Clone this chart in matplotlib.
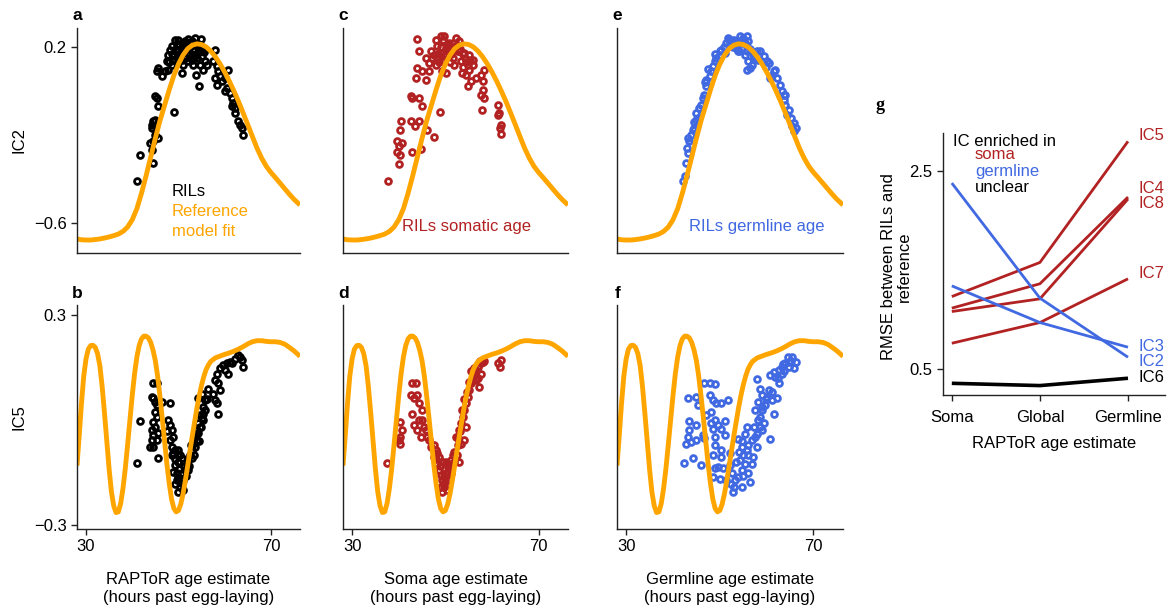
import numpy as np
import matplotlib
matplotlib.use("Agg")
import matplotlib.pyplot as plt

plt.rcParams['font.family'] = ['Liberation Sans', 'DejaVu Sans']
plt.rcParams['font.size'] = 11

ORANGE = '#FFA500'
RED = '#B22222'
BLUE = '#4169E1'
SPINE = '#222222'

# ---------------- reference model fits (hours past egg-laying) ----------------
ref_ic2_hours = [28.0, 29, 30, 31, 32, 33, 34, 35, 36, 37, 38, 39, 40, 41, 42, 43, 44, 45,
                 46, 47, 48, 49, 50, 51, 52, 53, 54, 55, 56, 57, 58, 59, 60, 61, 62, 63,
                 64, 65, 66, 67, 68, 69, 70, 71, 72, 73, 74, 75, 76, 76.3]
ref_ic2 = [-0.672, -0.676, -0.677, -0.677, -0.675, -0.672, -0.668, -0.663, -0.657, -0.650,
           -0.638, -0.618, -0.585, -0.535, -0.465, -0.385, -0.300, -0.215, -0.135, -0.065,
           0.005, 0.070, 0.122, 0.163, 0.192, 0.208, 0.214, 0.211, 0.200, 0.181, 0.155,
           0.123, 0.086, 0.045, 0.000, -0.048, -0.100, -0.153, -0.207, -0.260, -0.305,
           -0.342, -0.370, -0.394, -0.419, -0.444, -0.469, -0.492, -0.512, -0.518]

ref_ic5_hours = [28.05, 28.5, 29, 29.5, 30, 30.5, 31, 31.5, 32, 32.5, 33, 33.5, 34, 34.5,
                 35, 35.5, 36, 36.5, 37, 37.5, 38, 38.5, 39, 39.5, 40, 40.5, 41, 41.5, 42,
                 42.5, 43, 43.5, 44, 44.5, 45, 45.5, 46, 46.5, 47, 47.5, 48, 48.5, 49, 49.5,
                 50, 50.5, 51, 51.5, 52, 52.5, 53, 53.5, 54, 54.5, 55, 55.5, 56, 56.5, 57,
                 58, 59, 60, 61, 62, 63, 64, 65, 66, 67, 68, 69, 70, 71, 72, 73, 74, 75, 76,
                 76.3]
ref_ic5 = [-0.13, -0.05, 0.045, 0.125, 0.175, 0.203, 0.213, 0.214, 0.208, 0.19, 0.155,
           0.095, 0.02, -0.06, -0.14, -0.205, -0.245, -0.264, -0.262, -0.238, -0.195,
           -0.138, -0.07, 0.0, 0.07, 0.132, 0.18, 0.213, 0.232, 0.24, 0.24, 0.235, 0.222,
           0.2, 0.17, 0.125, 0.068, 0.005, -0.06, -0.125, -0.18, -0.225, -0.252, -0.262,
           -0.258, -0.24, -0.21, -0.172, -0.13, -0.087, -0.045, -0.005, 0.035, 0.07, 0.1,
           0.125, 0.145, 0.158, 0.168, 0.178, 0.183, 0.188, 0.192, 0.197, 0.203, 0.21,
           0.218, 0.224, 0.227, 0.227, 0.225, 0.224, 0.224, 0.222, 0.217, 0.208, 0.198,
           0.186, 0.182]

# ---------------- RIL samples: IC2 ----------------
ril_age = [40.95, 41.67, 44.56, 44.2, 44.56, 43.84, 44.92, 45.64, 44.2, 44.56, 44.92, 44.2,
           45.64, 44.92, 45.28, 49.1, 54.43, 53.78, 50.68, 45.64, 45.28, 46.36, 47.08, 47.44,
           47.8, 48.16, 48.52, 49.24, 49.6, 49.96, 50.68, 51.4, 52.48, 53.57, 54.86, 51.76,
           52.84, 53.93, 55.01, 55.73, 55.37, 56.09, 54.65, 53.2, 52.12, 50.68, 49.6, 48.52,
           47.8, 48.88, 50.32, 51.04, 57.89, 57.53, 58.25, 58.61, 58.97, 60.05, 60.77, 59.33,
           60.41, 61.13, 61.49, 61.85, 62.21, 61.49, 62.21, 62.93, 63.29, 63.66, 64.02, 60.05,
           57.89, 58.25, 49.5, 50.2, 51.0, 51.8, 52.5, 53.2, 53.9, 54.5, 55.2, 50.5, 51.5,
           52.2, 53.0, 54.0, 55.5, 48.5, 49.0, 47.9, 49.8, 50.7, 51.3, 52.0, 52.9, 53.5,
           54.2, 54.8, 55.6, 50.0, 52.7, 53.5, 51.2]
ril_ic2 = [-0.411, -0.290, -0.328, -0.267, -0.229, -0.237, -0.199, -0.214, -0.169, -0.138,
           -0.131, -0.153, -0.070, -0.025, -0.032, -0.096, 0.021, 0.074, 0.081, 0.104, 0.089,
           0.066, 0.089, 0.134, 0.165, 0.188, 0.203, 0.233, 0.211, 0.180, 0.195, 0.226, 0.218,
           0.241, 0.238, 0.172, 0.165, 0.150, 0.157, 0.134, 0.097, 0.120, 0.120, 0.120, 0.134,
           0.142, 0.127, 0.120, 0.097, 0.157, 0.165, 0.120, 0.188, 0.134, 0.112, 0.089, 0.066,
           0.059, 0.097, 0.044, 0.014, -0.009, -0.032, -0.055, -0.077, -0.070, -0.100, -0.138,
           -0.153, -0.168, -0.199, -0.001, 0.059, 0.029, 0.190, 0.210, 0.200, 0.190, 0.200,
           0.190, 0.210, 0.190, 0.200, 0.170, 0.150, 0.170, 0.140, 0.170, 0.175, 0.170, 0.140,
           0.130, 0.230, 0.220, 0.210, 0.235, 0.225, 0.210, 0.200, 0.180, 0.190, 0.160, 0.150,
           0.160, 0.180]

soma_age = [37.64, 40.02, 40.38, 39.65, 40.02, 40.74, 39.65, 42.9, 44.7, 47.58, 46.14, 40.38,
            40.59, 42.54, 43.47, 44.34, 45.06, 42.54, 42.9, 44.34, 48.88, 43.62, 43.98, 45.06,
            45.78, 46.5, 44.34, 43.98, 46.86, 47.94, 49.02, 49.74, 50.83, 52.27, 52.99, 48.3,
            47.58, 49.02, 50.11, 45.78, 46.5, 47.94, 49.38, 50.11, 53.56, 54.07, 55.15, 55.87,
            55.87, 55.15, 54.43, 55.51, 54.79, 56.59, 57.67, 58.39, 58.03, 58.03, 57.67, 58.39,
            57.89, 61.28, 61.49, 62.0, 61.64, 62.0, 61.28, 51.55, 52.63, 53.35, 51.91, 49.38,
            50.5, 51.2, 52.0, 53.2, 54.3, 54.9, 53.8, 49.7, 48.6, 51.0, 49.5, 50.3, 50.9,
            51.6, 52.4, 53.0, 53.7, 54.5, 55.2, 50.2, 49.0, 48.4, 47.2]
soma_ic2 = [-0.411, -0.332, -0.290, -0.275, -0.252, -0.237, -0.229, -0.279, -0.262, -0.211,
            -0.176, -0.176, -0.135, -0.135, -0.161, -0.135, -0.070, -0.025, -0.032, -0.032,
            -0.096, 0.059, 0.104, 0.089, 0.051, 0.089, 0.183, 0.238, 0.180, 0.233, 0.248, 0.248,
            0.218, 0.241, 0.225, 0.203, 0.165, 0.172, 0.195, 0.150, 0.127, 0.120, 0.134, 0.081,
            0.081, 0.172, 0.165, 0.142, 0.120, 0.097, 0.074, 0.044, 0.021, 0.059, 0.074, 0.097,
            0.044, 0.006, -0.017, -0.032, -0.085, -0.062, -0.100, -0.153, -0.168, -0.196,
            -0.108, 0.150, 0.180, 0.134, 0.120, 0.089, 0.190, 0.170, 0.200, 0.190, 0.150, 0.120,
            0.110, 0.160, 0.130, 0.130, 0.230, 0.210, 0.200, 0.220, 0.210, 0.180, 0.170, 0.130,
            0.140, 0.170, 0.200, 0.170, 0.150]

germ_age = [42.04, 42.62, 42.76, 43.12, 42.98, 43.48, 43.12, 43.84, 44.2, 44.56, 44.92, 45.28,
            45.64, 46.0, 46.36, 46.72, 47.08, 47.08, 47.8, 48.17, 48.53, 48.89, 49.25, 49.97,
            50.33, 51.05, 51.77, 52.49, 53.21, 54.29, 55.01, 55.73, 56.09, 54.65, 53.93, 55.37,
            56.09, 56.45, 55.73, 56.81, 57.53, 57.89, 58.62, 59.34, 60.06, 60.42, 60.78, 61.5,
            61.86, 62.22, 62.94, 63.3, 64.02, 63.66, 64.02, 64.74, 64.38, 65.1, 65.82, 66.18,
            65.82, 52.0, 53.5, 54.0, 55.5, 56.5, 57.0, 52.8, 50.8, 49.0, 47.5, 50.0, 51.4,
            52.2, 53.0, 54.5, 55.3, 53.7, 54.2, 55.9, 57.2, 58.2, 45.0, 44.4, 46.8, 59.8,
            61.0, 63.6, 65.4]
germ_ic2 = [-0.411, -0.388, -0.328, -0.282, -0.259, -0.229, -0.214, -0.199, -0.176, -0.169,
            -0.131, -0.123, -0.078, -0.062, -0.032, -0.017, 0.021, 0.051, 0.066, 0.089, 0.112,
            0.134, 0.150, 0.165, 0.188, 0.172, 0.241, 0.233, 0.218, 0.248, 0.241, 0.248, 0.225,
            0.195, 0.180, 0.165, 0.134, 0.104, 0.097, 0.120, 0.150, 0.180, 0.180, 0.157, 0.134,
            0.127, 0.059, 0.089, 0.097, 0.059, 0.029, -0.001, -0.017, -0.040, -0.062, -0.085,
            -0.108, -0.123, -0.146, -0.169, -0.184, 0.230, 0.200, 0.215, 0.210, 0.190, 0.170,
            0.200, 0.200, 0.170, 0.100, 0.180, 0.220, 0.210, 0.230, 0.225, 0.220, 0.190, 0.180,
            0.180, 0.160, 0.140, -0.100, -0.140, 0.040, 0.110, 0.070, -0.020, -0.160]

# ---------------- RIL samples: IC5 ----------------
ril_age5 = [40.95, 41.67, 45.64, 44.56, 45.28, 44.2, 44.56, 44.92, 45.28, 46.36, 48.16, 44.92,
            45.28, 44.56, 44.92, 44.2, 44.56, 44.2, 43.84, 44.56, 45.28, 45.64, 47.8, 48.16,
            48.52, 48.88, 48.16, 48.52, 49.24, 48.88, 49.96, 50.32, 50.68, 49.96, 49.24, 48.88,
            49.6, 49.96, 49.24, 49.96, 50.32, 51.04, 50.68, 51.4, 51.76, 52.12, 52.48, 52.84,
            53.2, 53.57, 53.93, 54.29, 54.65, 54.29, 55.37, 55.73, 55.01, 56.45, 57.53, 57.89,
            58.25, 58.47, 58.97, 58.61, 57.89, 58.25, 58.97, 60.05, 59.69, 60.41, 60.77, 61.13,
            61.49, 62.21, 62.93, 63.66, 64.02, 63.29, 52.12, 52.84, 53.57, 53.93, 54.29, 54.65,
            55.01, 55.37, 49.6, 50.2, 50.6, 51.1, 50.9, 51.6, 52.3, 52.7, 53.3, 53.8, 54.4,
            54.9, 55.4, 55.8, 56.2, 49.3, 50.0, 48.6, 47.5]
ril_ic5 = [-0.122, -0.003, -0.109, 0.107, 0.105, 0.067, 0.062, 0.053, 0.043, 0.053, 0.048,
           0.024, 0.010, -0.005, -0.019, -0.028, -0.043, -0.057, -0.076, -0.076, -0.057, -0.038,
           0.000, -0.014, -0.028, -0.047, -0.057, -0.076, -0.086, -0.095, -0.086, -0.100,
           -0.109, -0.119, -0.128, -0.147, -0.152, -0.162, -0.181, -0.205, -0.190, -0.171,
           -0.152, -0.143, -0.128, -0.114, -0.100, -0.086, -0.067, -0.047, -0.028, -0.009,
           0.014, 0.062, 0.038, 0.057, 0.076, 0.090, 0.076, 0.057, 0.048, 0.017, 0.086, 0.105,
           0.114, 0.133, 0.148, 0.143, 0.157, 0.162, 0.133, 0.167, 0.162, 0.176, 0.186, 0.171,
           0.152, 0.181, -0.143, -0.109, -0.076, -0.057, -0.038, -0.019, 0.005, 0.019, -0.170,
           -0.140, -0.180, -0.130, -0.200, -0.160, -0.130, -0.070, -0.100, -0.040, -0.060,
           -0.020, 0.000, 0.030, 0.060, -0.110, -0.100, -0.100, -0.030]

soma_age5 = [37.49, 40.37, 40.73, 40.37, 40.01, 40.37, 42.9, 43.62, 42.54, 43.26, 43.98,
             44.34, 42.9, 43.26, 44.34, 43.98, 44.7, 45.06, 45.42, 45.06, 45.78, 46.14, 46.5,
             46.86, 47.58, 47.94, 48.3, 48.66, 47.58, 48.3, 48.66, 49.02, 49.38, 49.38, 49.02,
             49.74, 50.1, 50.46, 50.82, 51.19, 51.55, 51.91, 52.63, 52.99, 52.27, 52.99, 53.35,
             53.71, 54.07, 54.43, 54.79, 55.15, 55.51, 55.87, 56.23, 56.59, 56.95, 57.31, 57.67,
             58.03, 57.67, 56.59, 61.28, 61.64, 62.0, 54.43, 54.07, 53.35, 49.5, 50.0, 50.5,
             49.8, 51.0, 50.3, 49.8, 50.2, 50.6, 51.2, 51.8, 52.4, 52.8, 53.2, 53.6, 54.0,
             54.6, 55.0, 55.6, 56.2, 56.9, 57.5, 58.2, 48.8, 48.0]
soma_ic5 = [-0.122, -0.005, -0.028, -0.047, -0.057, -0.067, 0.105, 0.105, 0.071, 0.062, 0.071,
            0.048, 0.019, -0.014, 0.000, -0.028, -0.047, 0.000, -0.019, 0.029, -0.028, -0.047,
            -0.057, -0.076, -0.071, -0.086, -0.095, -0.105, -0.105, -0.124, -0.143, -0.157,
            -0.171, -0.205, -0.190, -0.181, -0.152, -0.133, -0.124, -0.114, -0.100, -0.090,
            -0.071, -0.119, -0.047, -0.028, -0.009, 0.010, 0.029, 0.048, 0.067, 0.086, 0.105,
            0.124, 0.133, 0.143, 0.152, 0.095, 0.162, 0.167, 0.133, 0.114, 0.162, 0.152, 0.171,
            -0.019, -0.057, -0.067, -0.120, -0.170, -0.150, -0.190, -0.140, -0.200, -0.160,
            -0.120, -0.170, -0.150, -0.120, -0.100, -0.050, -0.030, 0.030, 0.060, 0.080, 0.110,
            0.140, 0.150, 0.120, 0.170, 0.170, -0.130, -0.110]

germ_age5 = [42.39, 44.19, 46.0, 43.11, 44.92, 45.28, 46.72, 47.8, 48.88, 47.8, 48.52, 49.24,
             50.32, 51.76, 47.08, 48.16, 43.47, 44.92, 43.47, 43.11, 43.83, 42.75, 44.92, 46.36,
             46.72, 48.16, 48.88, 49.6, 51.04, 50.32, 48.52, 48.88, 51.04, 48.88, 48.52, 50.32,
             50.32, 52.12, 53.92, 48.88, 49.6, 50.68, 52.12, 48.52, 49.96, 51.4, 52.48, 52.84,
             54.65, 56.45, 53.92, 54.65, 55.37, 55.01, 55.73, 56.09, 56.81, 57.53, 57.89, 57.17,
             56.81, 56.09, 54.28, 54.65, 57.53, 57.89, 58.61, 58.97, 58.25, 58.97, 58.61, 59.33,
             58.97, 60.77, 61.49, 61.13, 60.05, 61.13, 62.21, 62.57, 60.77, 61.49, 62.57, 63.29,
             64.01, 64.74, 65.46, 66.18, 65.82, 64.74, 63.29, 61.85, 60.41, 59.69, 58.25, 58.61,
             52.5, 53.2, 53.5, 54.0, 54.8, 55.3, 55.7, 53.0, 55.0, 56.0, 57.2, 58.0, 59.0,
             59.8, 62.5, 63.8, 64.5, 65.2, 63.5]
germ_ic5 = [-0.122, -0.109, -0.127, 0.062, 0.067, 0.043, 0.105, 0.107, 0.102, 0.071, 0.057,
            0.048, 0.048, 0.059, 0.014, 0.024, -0.003, -0.014, -0.028, -0.047, -0.062, -0.067,
            -0.057, -0.043, -0.052, -0.009, 0.000, -0.014, -0.003, -0.024, -0.024, -0.047,
            -0.043, -0.071, -0.100, -0.086, -0.105, -0.095, -0.055, -0.138, -0.133, -0.138,
            -0.128, -0.162, -0.167, -0.171, -0.181, -0.205, -0.190, -0.176, -0.162, -0.143,
            -0.124, -0.100, -0.086, -0.071, -0.057, -0.047, -0.076, -0.105, -0.124, -0.152,
            -0.114, -0.076, 0.029, 0.119, 0.090, 0.071, 0.053, 0.038, 0.010, -0.009, -0.028,
            -0.054, 0.019, 0.057, 0.067, 0.081, 0.062, 0.105, 0.129, 0.138, 0.143, 0.152, 0.162,
            0.167, 0.181, 0.167, 0.148, 0.152, 0.133, 0.124, 0.086, 0.043, 0.000, -0.019,
            -0.150, -0.170, -0.120, -0.090, -0.060, -0.040, -0.020, -0.190, -0.160, -0.100,
            -0.020, -0.040, 0.030, 0.060, 0.120, 0.140, 0.180, 0.170, 0.160]

# ---------------- RMSE between RILs and reference ----------------
estimates = ['Soma', 'Global', 'Germline']
ic_names = ['IC5', 'IC4', 'IC8', 'IC7', 'IC3', 'IC2', 'IC6']
ic_enriched = ['soma', 'soma', 'soma', 'soma', 'germline', 'germline', 'unclear']
rmse = [[1.23, 1.574, 2.796],
        [1.113, 1.359, 2.234],
        [1.079, 1.207, 2.214],
        [0.759, 0.968, 1.409],
        [1.338, 0.968, 0.719],
        [2.375, 1.214, 0.618],
        [0.355, 0.332, 0.406]]
label_y = [2.85, 2.32, 2.17, 1.46, 0.73, 0.575, 0.415]
group_color = {'soma': RED, 'germline': BLUE, 'unclear': 'black'}

W, H = 1169, 610
fig = plt.figure(figsize=(W / 100, H / 100), dpi=100)


def rect(l, t, r, b):
    return [l / W, 1 - b / H, (r - l) / W, (b - t) / H]


def style(ax):
    for s in ['top', 'right']:
        ax.spines[s].set_visible(False)
    for s in ['left', 'bottom']:
        ax.spines[s].set_color(SPINE)
        ax.spines[s].set_linewidth(1.0)
    ax.tick_params(colors=SPINE, labelcolor='black', length=4, width=1.0, labelsize=12)


IC2_LIM = (-0.736, 0.286)
IC5_LIM = (-0.311, 0.329)
XLIM = (28.05, 76.3)
cols = [(77, 300), (343, 568), (617, 843)]
top_data = [(ril_age, ril_ic2, 'black'), (soma_age, soma_ic2, RED), (germ_age, germ_ic2, BLUE)]
bot_data = [(ril_age5, ril_ic5, 'black'), (soma_age5, soma_ic5, RED), (germ_age5, germ_ic5, BLUE)]
xlabels = ['RAPToR age estimate', 'Soma age estimate', 'Germline age estimate']
letters = [('a', 'b'), ('c', 'd'), ('e', 'f')]
pt_kw = dict(ls='none', marker='o', ms=4.2, mfc='none', mew=2.0, clip_on=False)

for i, (l, r) in enumerate(cols):
    # top row: IC2
    ax = fig.add_axes(rect(l, 28, r, 253))
    style(ax)
    x, y, c = top_data[i]
    ax.plot(x, y, mec=c, **pt_kw)
    ax.plot(ref_ic2_hours, ref_ic2, color=ORANGE, lw=3.5, solid_capstyle='butt')
    ax.set_xlim(*XLIM)
    ax.set_ylim(*IC2_LIM)
    ax.set_xticks([])
    if i == 0:
        ax.set_yticks([0.2, -0.6])
        ax.set_yticklabels(['0.2', '\u22120.6'])
        ax.set_ylabel('IC2', fontsize=12)
        ax.yaxis.set_label_coords(-0.225, 0.5)
    else:
        ax.set_yticks([])
    fig.text((l + 0.5) / W, 1 - 16 / H, letters[i][0], fontweight='bold', fontsize=12.5,
             ha='center', va='center')

    # bottom row: IC5
    ax = fig.add_axes(rect(l, 305, r, 529))
    style(ax)
    x, y, c = bot_data[i]
    ax.plot(x, y, mec=c, **pt_kw)
    ax.plot(ref_ic5_hours, ref_ic5, color=ORANGE, lw=3.5, solid_capstyle='butt')
    ax.set_xlim(*XLIM)
    ax.set_ylim(*IC5_LIM)
    ax.set_xticks([30, 70])
    ax.set_xlabel(xlabels[i] + '\n(hours past egg-laying)', fontsize=12, labelpad=13,
                  linespacing=1.2)
    if i == 0:
        ax.set_yticks([0.3, -0.3])
        ax.set_yticklabels(['0.3', '\u22120.3'])
        ax.set_ylabel('IC5', fontsize=12)
        ax.yaxis.set_label_coords(-0.225, 0.5)
    else:
        ax.set_yticks([])
    fig.text((l + 0.5) / W, 1 - 293 / H, letters[i][1], fontweight='bold', fontsize=12.5,
             ha='center', va='center')

# in-panel keys
fig.text(172 / W, 1 - 191 / H, 'RILs', color='black', fontsize=12, va='center')
fig.text(172 / W, 1 - 212 / H, 'Reference', color=ORANGE, fontsize=12, va='center')
fig.text(172 / W, 1 - 232 / H, 'model fit', color=ORANGE, fontsize=12, va='center')
fig.text(467 / W, 1 - 226 / H, 'RILs somatic age', color=RED, fontsize=12,
         ha='center', va='center')
fig.text(757 / W, 1 - 226 / H, 'RILs germline age', color=BLUE, fontsize=12,
         ha='center', va='center')

# ---------------- panel g ----------------
ax = fig.add_axes(rect(943, 133, 1165, 395))
style(ax)
pos = np.arange(len(estimates))
for name, grp, vals, ly in zip(ic_names, ic_enriched, rmse, label_y):
    col = group_color[grp]
    ax.plot(pos, vals, color=col, lw=2.6 if grp == 'unclear' else 2.0, solid_capstyle='butt')
    ax.text(2.12, ly, name, color=col, fontsize=12, va='center', ha='left', clip_on=False)
ax.set_xlim(-0.1, 2.42)
ax.set_ylim(0.237, 2.88)
ax.set_xticks(pos)
ax.set_xticklabels(estimates)
ax.set_yticks([2.5, 0.5])
ax.set_yticklabels(['2.5', '0.5'])
ax.tick_params(axis='x', pad=7)
ax.set_xlabel('RAPToR age estimate', fontsize=12, labelpad=8)
ax.set_ylabel('RMSE between RILs and\nreference', fontsize=12, linespacing=1.05)
ax.yaxis.set_label_coords(-0.14, 0.49)

fig.text(953 / W, 1 - 142 / H, 'IC enriched in', color='black', fontsize=12, va='center')
for txt, yy in zip(['soma', 'germline', 'unclear'], [155, 171, 188]):
    fig.text(975 / W, 1 - yy / H, txt, color=group_color[txt], fontsize=12, va='center')
fig.text(880 / W, 1 - 105 / H, 'g', fontweight='bold', fontsize=13, family='Liberation Serif',
         ha='center', va='center')

fig.savefig('out.png', dpi=100)
